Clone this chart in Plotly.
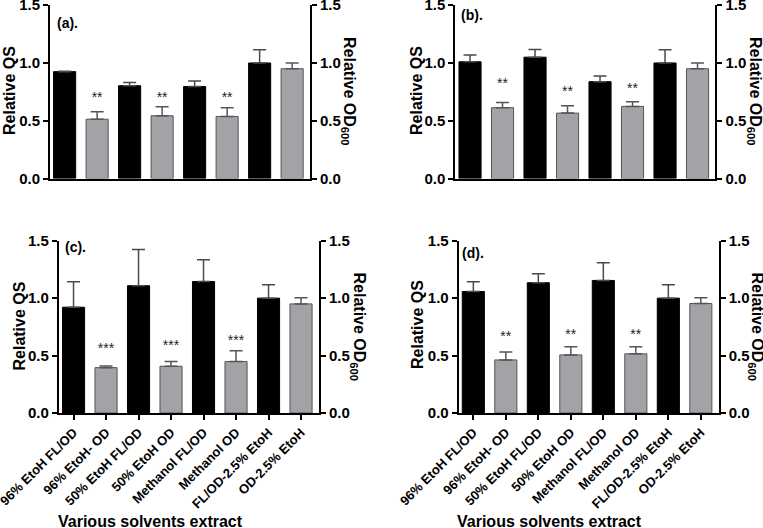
import plotly.graph_objects as go

categories = ["96% EtoH FL/OD", "96% EtoH- OD", "50% EtoH FL/OD", "50% EtoH OD",
              "Methanol FL/OD", "Methanol OD", "FL/OD-2.5% EtoH", "OD-2.5% EtoH"]
y_ticks = [0.0, 0.5, 1.0, 1.5]

# panel values (relative QS for FL/OD bars, relative OD600 for OD bars)
vals_a = [0.925, 0.513, 0.803, 0.543, 0.796, 0.537, 1.0, 0.95]
errs_a = [0.004, 0.064, 0.029, 0.078, 0.047, 0.075, 0.115, 0.05]
vals_b = [1.01, 0.613, 1.05, 0.566, 0.838, 0.624, 1.0, 0.95]
errs_b = [0.06, 0.045, 0.066, 0.064, 0.05, 0.04, 0.115, 0.05]
vals_c = [0.921, 0.395, 1.108, 0.407, 1.145, 0.448, 1.0, 0.95]
errs_c = [0.221, 0.015, 0.316, 0.041, 0.189, 0.093, 0.116, 0.053]
vals_d = [1.058, 0.462, 1.134, 0.506, 1.154, 0.515, 1.0, 0.953]
errs_d = [0.084, 0.07, 0.078, 0.07, 0.154, 0.061, 0.116, 0.05]

# significance marks above OD bars (indices 1, 3, 5)
stars_a = ["**", "**", "**"]
star_y_a = [0.69, 0.69, 0.69]
stars_b = ["**", "**", "**"]
star_y_b = [0.81, 0.747, 0.77]
stars_c = ["***", "***", "***"]
star_y_c = [0.55, 0.583, 0.618]
stars_d = ["**", "**", "**"]
star_y_d = [0.659, 0.673, 0.676]

panel_labels = ["(a).", "(b).", "(c).", "(d)."]

W, H = 763, 528
FONT = "Liberation Sans"

def px_x(p):
    return p / W

def px_y(p):
    return 1 - p / H

# pixel boxes: (left, right, top, bottom)
boxes = [(50, 310, 5.2, 178.5), (455.4, 715.4, 5.2, 178.5),
         (58.9, 318.9, 240.7, 413.0), (458.7, 718.7, 240.7, 413.0)]
data_sets = [(vals_a, errs_a, stars_a, star_y_a), (vals_b, errs_b, stars_b, star_y_b),
             (vals_c, errs_c, stars_c, star_y_c), (vals_d, errs_d, stars_d, star_y_d)]

fig = go.Figure()
xr = [-0.45, 7.55]
qs_idx = [0, 2, 4, 6]
od_idx = [1, 3, 5, 7]
layout = {}
for i, (box, (vals, errs, stars, sy)) in enumerate(zip(boxes, data_sets)):
    n = i + 1
    xa = "x" if n == 1 else f"x{n}"
    ya = "y" if n == 1 else f"y{n}"
    yr = f"y{n + 4}"
    fig.add_trace(go.Bar(
        x=qs_idx, y=[vals[k] for k in qs_idx], width=0.68,
        marker=dict(color="#000000", line=dict(color="#000000", width=1)),
        error_y=dict(type="data", symmetric=False, array=[errs[k] for k in qs_idx],
                     arrayminus=[0] * 4, color="#4a4a4a", thickness=1.5, width=6.5),
        xaxis=xa, yaxis=ya, showlegend=False))
    fig.add_trace(go.Bar(
        x=od_idx, y=[vals[k] for k in od_idx], width=0.68,
        marker=dict(color="#a3a3a7", line=dict(color="#555555", width=1)),
        error_y=dict(type="data", symmetric=False, array=[errs[k] for k in od_idx],
                     arrayminus=[0] * 4, color="#555555", thickness=1.5, width=6.5),
        xaxis=xa, yaxis=yr, showlegend=False))
    fig.add_trace(go.Scatter(
        x=od_idx[:3], y=sy, mode="text", text=stars,
        textfont=dict(family=FONT, size=14, color="#222222"),
        xaxis=xa, yaxis=yr, showlegend=False, hoverinfo="skip"))

    left, right, top, bottom = box
    bottom_row = n >= 3
    xkey = "xaxis" if n == 1 else f"xaxis{n}"
    ykey = "yaxis" if n == 1 else f"yaxis{n}"
    yrkey = f"yaxis{n + 4}"
    layout[xkey] = dict(
        domain=[px_x(left), px_x(right)], anchor=ya, range=xr, automargin=False,
        tickmode="array", tickvals=list(range(8)), ticktext=categories,
        showticklabels=bottom_row, ticks="outside" if bottom_row else "",
        ticklen=5, tickwidth=1.5, tickcolor="#000", ticklabeloverflow="allow",
        tickangle=-45, tickfont=dict(family=FONT, size=13, color="#000", weight="bold"),
        showline=True, linecolor="#000", linewidth=2, showgrid=False, zeroline=False,
        fixedrange=True)
    common_y = dict(range=[0, 1.5], tickmode="array", tickvals=y_ticks,
                    tickformat=".1f", ticks="outside", ticklen=5, tickwidth=2,
                    tickcolor="#000", showline=True, linecolor="#000", linewidth=2,
                    showgrid=False, zeroline=False, automargin=False,
                    ticklabeloverflow="allow", fixedrange=True,
                    tickfont=dict(family=FONT, size=15, color="#000", weight="bold"))
    layout[ykey] = dict(domain=[px_y(bottom), px_y(top)], anchor=xa, side="left", **common_y)
    layout[yrkey] = dict(overlaying=ya, anchor=xa, side="right", **common_y)

annotations = []
label_pos = [(55, 23), (459, 15), (62.7, 247), (460, 253)]
for lab, (lx, ly) in zip(panel_labels, label_pos):
    annotations.append(dict(x=px_x(lx), y=px_y(ly), xref="paper", yref="paper",
                            text=lab, showarrow=False, xanchor="left", yanchor="middle",
                            font=dict(family=FONT, size=14, color="#000", weight="bold")))
left_titles = [(9, 91), (416, 91), (18.5, 326), (417, 324)]
for tx, ty in left_titles:
    annotations.append(dict(x=px_x(tx), y=px_y(ty), xref="paper", yref="paper",
                            text="Relative QS", showarrow=False, textangle=-90,
                            xanchor="center", yanchor="middle",
                            font=dict(family=FONT, size=16, color="#000", weight="bold")))
right_titles = [(349, 91), (755, 91), (358.5, 326), (756.5, 326)]
for tx, ty in right_titles:
    annotations.append(dict(x=px_x(tx), y=px_y(ty), xref="paper", yref="paper",
                            text="Relative OD<sub>600</sub>", showarrow=False, textangle=90,
                            xanchor="center", yanchor="middle",
                            font=dict(family=FONT, size=16, color="#000", weight="bold")))
for tx in (150, 549):
    annotations.append(dict(x=px_x(tx), y=px_y(521), xref="paper", yref="paper",
                            text="Various solvents extract", showarrow=False,
                            xanchor="center", yanchor="middle",
                            font=dict(family=FONT, size=16, color="#000", weight="bold")))

fig.update_layout(
    width=W, height=H, margin=dict(l=0, r=0, t=0, b=0, autoexpand=False),
    paper_bgcolor="white", plot_bgcolor="white", barmode="overlay",
    annotations=annotations, **layout)

fig.write_html("out.html", config={"displayModeBar": False},
               post_script="document.body.style.margin='0';")
